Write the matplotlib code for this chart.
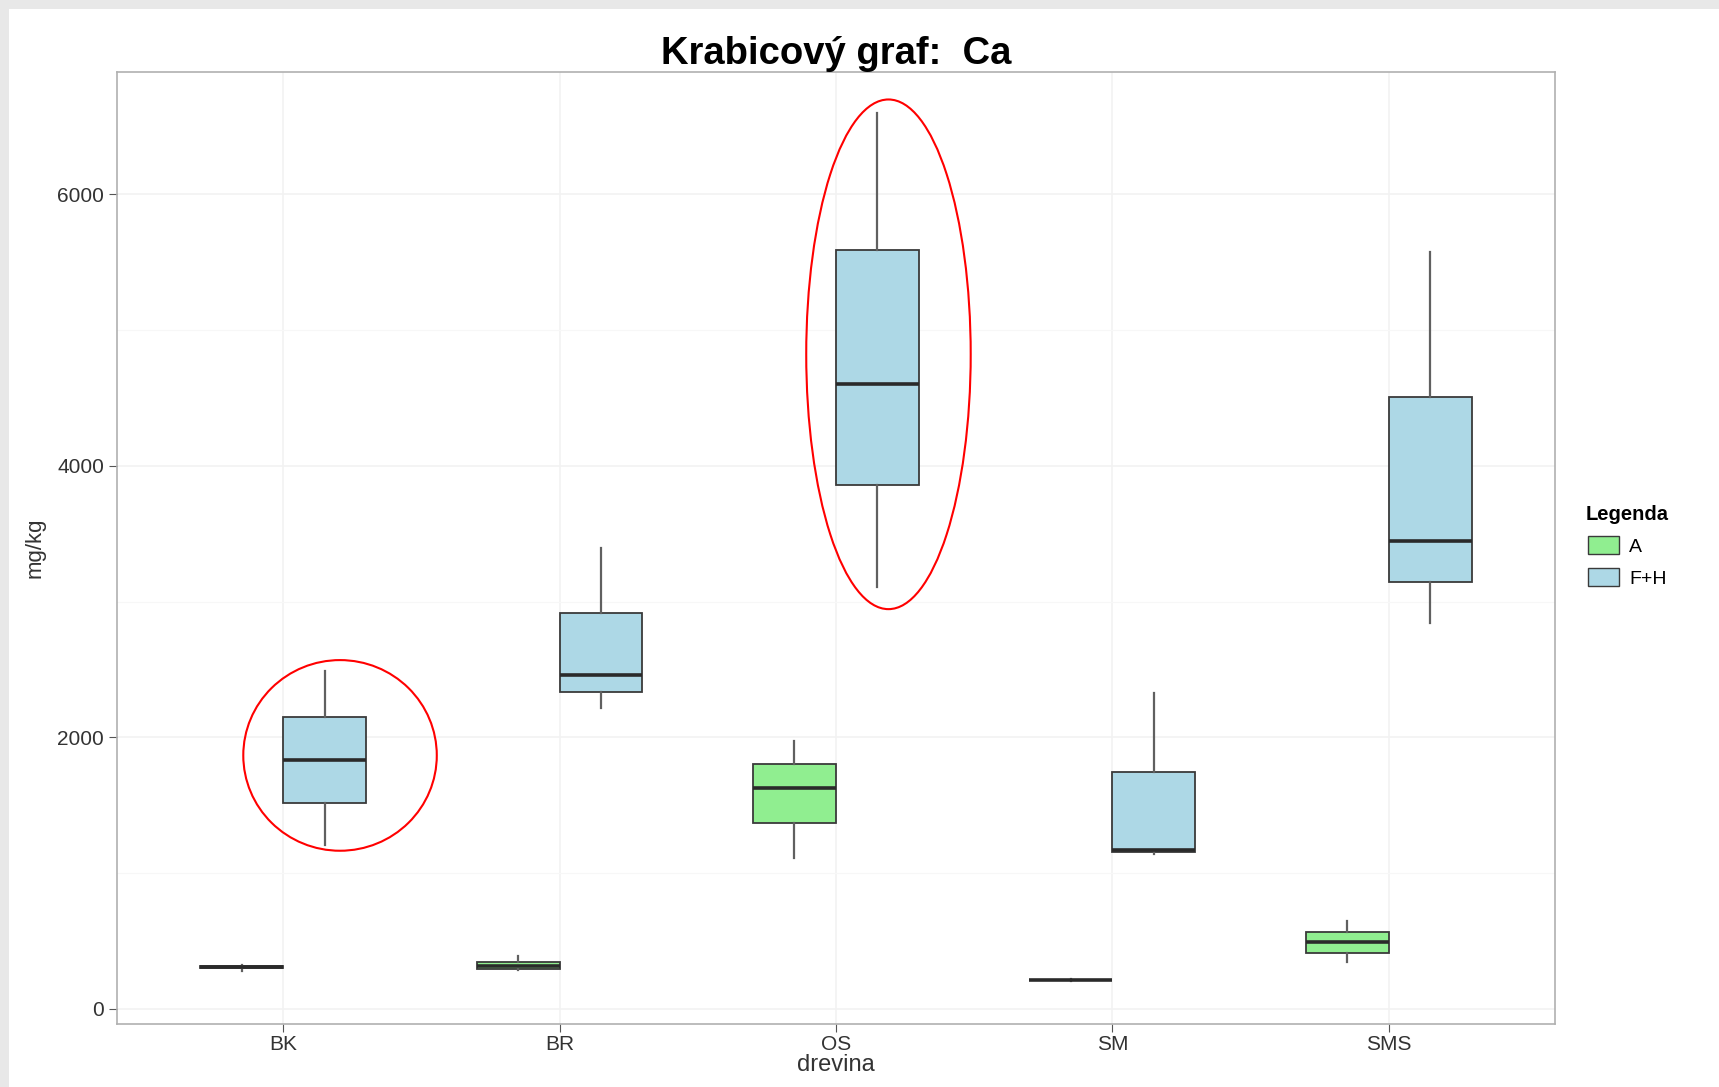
#!/usr/bin/env python
"""Krabicovy graf: Ca -- boxplot of Ca (mg/kg) by tree species and horizon."""

import matplotlib
matplotlib.use('Agg')
import matplotlib.pyplot as plt
from matplotlib.patches import Ellipse, Patch, Rectangle

# categories and groups
species = ['BK', 'BR', 'OS', 'SM', 'SMS']
groups = ['A', 'F+H']

# box statistics (whislo, q1, med, q3, whishi)
a_whislo = [280, 285, 1107, 205, 347]
a_q1 = [300, 291, 1365, 208, 412]
a_med = [307, 315, 1624, 210, 493]
a_q3 = [315, 347, 1801, 212, 565]
a_whishi = [320, 388, 1971, 215, 646]

fh_whislo = [1204, 2213, 3110, 1139, 2843]
fh_q1 = [1519, 2334, 3861, 1155, 3142]
fh_med = [1834, 2456, 4604, 1171, 3449]
fh_q3 = [2149, 2916, 5590, 1745, 4507]
fh_whishi = [2488, 3393, 6599, 2326, 5574]

# red highlight ellipses (category position, value, width, height)
ell_x = [1.206, 3.19]
ell_y = [1866, 4822]
ell_w = [0.70, 0.595]
ell_h = [1405, 3756]

yticks = [0, 2000, 4000, 6000]


def make_stats(lo, q1, med, q3, hi):
    """ build bxp stats dicts """
    return [dict(whislo=a, q1=b, med=c, q3=d, whishi=e, fliers=[])
            for a, b, c, d, e in zip(lo, q1, med, q3, hi)]


def main():
    """ main body """
    plt.rcParams['font.family'] = ['Liberation Sans', 'DejaVu Sans']
    fig = plt.figure(figsize=(17.19, 10.87), dpi=100, facecolor='#e8e8e8')
    fig.patches.append(Rectangle((9 / 1719, 0), 1, 1 - 9 / 1087,
                                 transform=fig.transFigure,
                                 facecolor='white', edgecolor='none',
                                 zorder=-10))

    ax = fig.add_axes([0.0682, 0.058, 0.8362, 0.8762])
    ax.set_facecolor('white')

    xpos = list(range(1, len(species) + 1))
    fills = {'A': '#90ee90', 'F+H': '#add8e6'}
    stats = {'A': make_stats(a_whislo, a_q1, a_med, a_q3, a_whishi),
             'F+H': make_stats(fh_whislo, fh_q1, fh_med, fh_q3, fh_whishi)}
    shift = {'A': -0.15, 'F+H': 0.15}

    for g in groups:
        ax.bxp(stats[g], positions=[p + shift[g] for p in xpos],
               widths=0.3, showcaps=False, showfliers=False,
               patch_artist=True, manage_ticks=False,
               boxprops=dict(facecolor=fills[g], edgecolor='#3a3a3a',
                             linewidth=1.3),
               whiskerprops=dict(color='#606060', linewidth=1.6),
               medianprops=dict(color='#2a2a2a', linewidth=2.6),
               zorder=3)

    for x, y, w, h in zip(ell_x, ell_y, ell_w, ell_h):
        ax.add_patch(Ellipse((x, y), w, h, facecolor='none',
                             edgecolor='#ff0000', linewidth=1.5, zorder=5))

    ax.set_xlim(0.4, 5.6)
    ax.set_ylim(-113, 6906)
    ax.set_xticks(xpos)
    ax.set_xticklabels(species)
    ax.set_yticks(yticks)
    ax.set_yticks([1000, 3000, 5000], minor=True)
    ax.tick_params(axis='both', which='major', labelsize=15,
                   labelcolor='#333333', color='#555555', length=6)
    ax.tick_params(axis='x', which='major', pad=2)
    ax.tick_params(axis='y', which='minor', length=0)
    ax.grid(True, which='major', color='#f2f2f2', linewidth=1.2, zorder=0)
    ax.grid(True, which='minor', axis='y', color='#f7f7f7', linewidth=0.8,
            zorder=0)
    ax.set_axisbelow(True)
    for s in ax.spines.values():
        s.set_color('#b0b0b0')
        s.set_linewidth(1.2)

    ax.set_xlabel('drevina', fontsize=17, color='#333333', labelpad=0)
    ax.set_ylabel('mg/kg', fontsize=16, color='#333333', labelpad=8)
    ax.set_title('Krabicový graf:  Ca', fontsize=27.5, fontweight='bold',
                 pad=4)

    handles = [Patch(facecolor=fills[g], edgecolor='#3a3a3a', label=g)
               for g in groups]
    fig.legend(handles=handles, title='Legenda', loc='upper left',
               bbox_to_anchor=(0.918, 0.543), frameon=False, fontsize=14,
               title_fontproperties=dict(weight='bold', size=14.5),
               handlelength=1.6, handleheight=1.0, borderaxespad=0,
               labelspacing=0.65, handletextpad=0.5)

    fig.savefig('out.png', dpi=100, facecolor=fig.get_facecolor())


if __name__ == "__main__":
    main()
